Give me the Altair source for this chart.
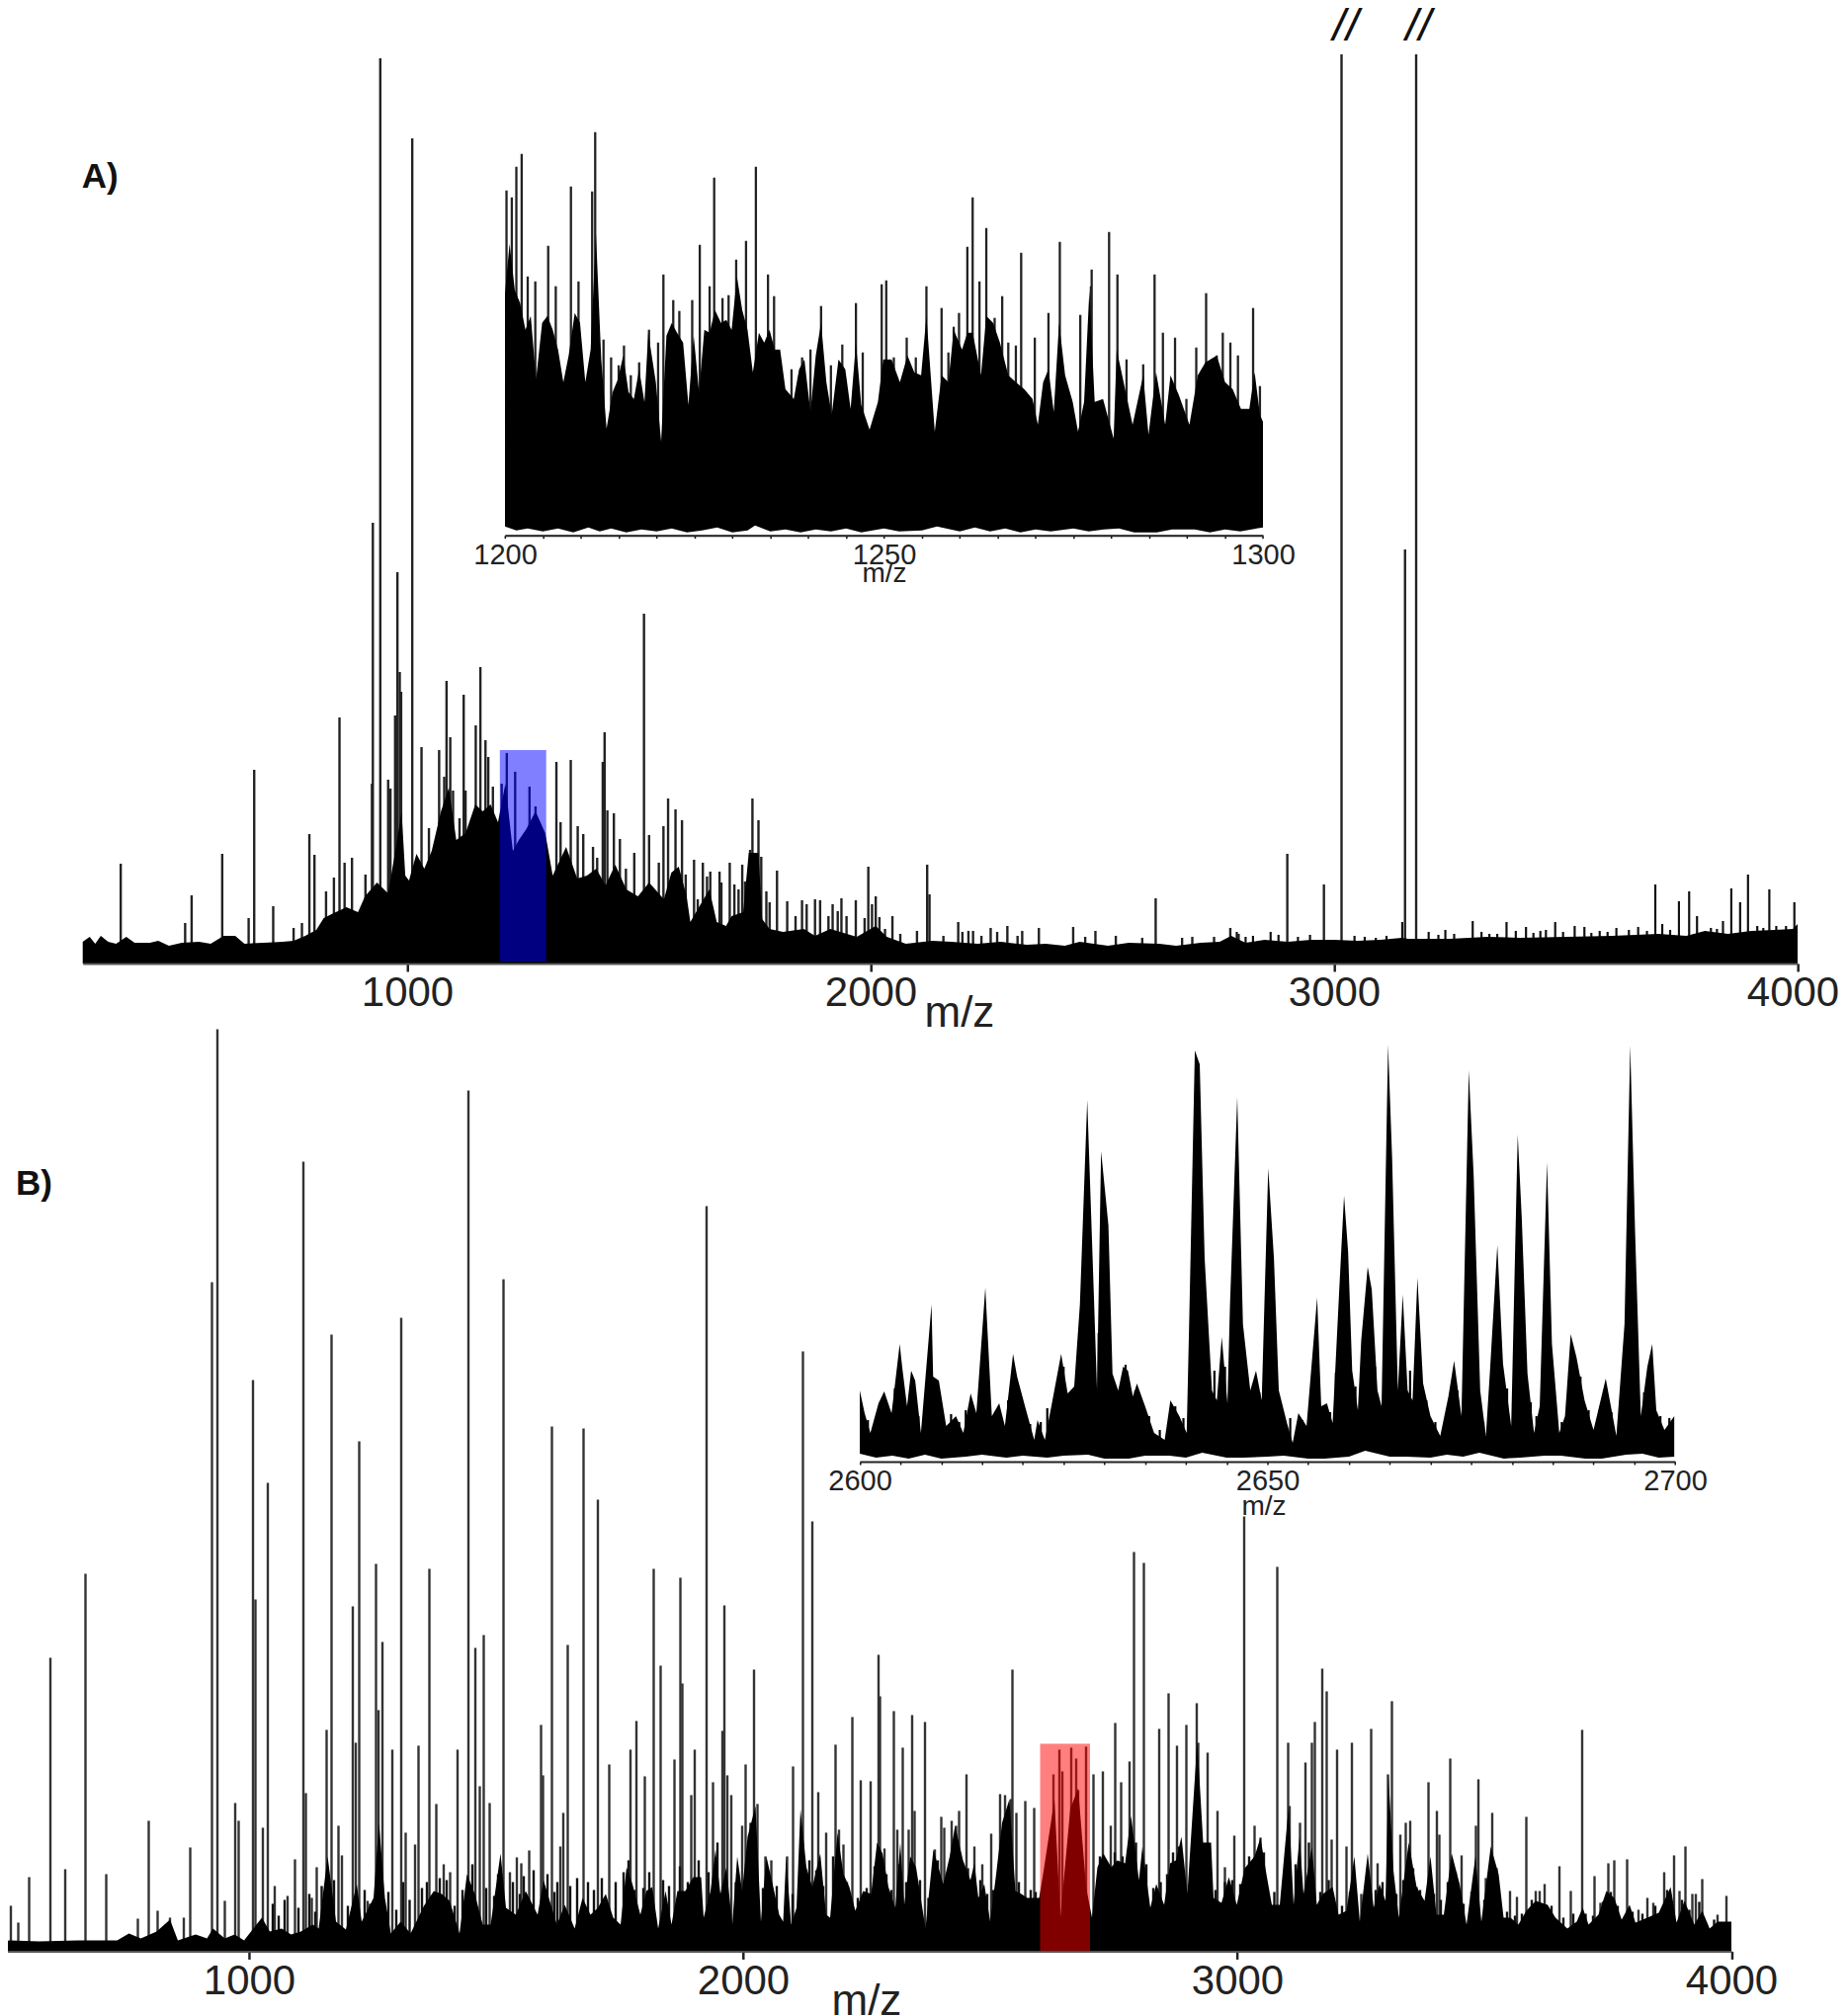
import altair as alt
import pandas as pd

FONT = "Liberation Sans"
W, H = 1862, 2032
K = 1862 / 1854  # the page fits the picture to its 1854px body...
DY = 4.4         # ...and centres it in the taller box that leaves

# ---------- Panel A: full spectrum ----------
A_ENV = [(300,22),(315,27),(327,20),(339,28),(355,22),(372,20),(394,27),(412,21),(445,21),(463,23),(486,18),(514,21),(551,22),(576,20),(604,28),(629,28),(649,20),(690,21),(731,22),(755,23),(780,28),(804,34),(820,46),(837,50),(869,57),(894,52),(909,68),(935,82),(959,71),(976,118),(988,154),(996,89),(1004,84),(1020,111),(1037,96),(1053,114),(1073,154),(1090,178),(1106,125),(1126,132),(1147,161),(1163,154),(1180,161),(1196,143),(1212,182),(1228,114),(1241,125),(1257,136),(1277,154),(1298,132),(1314,89),(1343,118),(1367,86),(1388,89),(1408,96),(1428,79),(1449,100),(1473,75),(1498,68),(1522,82),(1554,65),(1570,92),(1586,98),(1603,68),(1611,42),(1627,55),(1652,75),(1668,42),(1688,38),(1700,48),(1725,52),(1737,112),(1758,112),(1766,45),(1782,35),(1811,32),(1856,35),(1880,28),(1913,35),(1970,27),(2011,38),(2035,27),(2076,20),(2133,23),(2174,22),(2231,20),(2280,22),(2337,19),(2378,20),(2419,18),(2451,22),(2512,18),(2557,21),(2623,20),(2659,18),(2712,21),(2753,22),(2778,28),(2809,21),(2850,24),(2900,22),(2950,24),(3000,24),(3050,23),(3100,24),(3146,26),(3160,25),(3250,25),(3330,27),(3400,26),(3500,27),(3600,28),(3700,30),(3760,28),(3800,33),(3850,30),(3900,33),(3950,34),(3990,35),(4000,40)]
a_peak_mz = [382,521,535,601,658,670,711,755,773,789,800,825,842,854,865,881,910,924,926,942,959,964,974,979,984,987,1011,1031,1047,1069,1080,1085,1093,1099,1113,1122,1126,1148,1158,1169,1175,1185,1204,1215,1233,1264,1277,1322,1331,1353,1368,1380,1401,1410,1422,1426,1432,1446,1459,1472,1490,1511,1522,1543,1553,1563,1579,1593,1601,1619,1627,1638,1647,1654,1674,1678,1696,1706,1715,1723,1729,1740,1745,1758,1764,1775,1782,1798,1820,1838,1852,1862,1880,1891,1909,1918,1929,1937,1948,1968,1987,1995,2003,2011,2019,2031,2047,2064,2100,2122,2127,2157,2189,2198,2211,2221,2239,2259,2273,2295,2317,2327,2363,2437,2463,2485,2529,2586,2615,2672,2694,2741,2776,2794,2899,2978,3016,3153,3177]
a_peak_h = [101,41,69,111,46,196,58,36,41,131,110,73,87,249,102,107,90,182,446,916,186,177,251,396,295,275,835,219,137,216,189,286,229,175,147,272,175,241,300,226,209,179,182,213,194,179,159,204,143,206,139,131,118,107,204,234,155,152,126,96,112,354,130,102,139,167,156,145,90,105,65,102,88,93,93,82,102,80,75,100,83,115,167,145,108,73,62,94,63,48,64,60,65,64,48,60,53,66,48,64,46,98,60,68,47,35,48,30,33,100,70,28,42,32,33,33,28,36,32,38,28,33,36,37,27,33,28,26,66,26,27,27,36,30,111,80,920,419,920]
A_TEETH = [(2790,32),(2809,27),(2825,28),(2863,32),(2880,29),(2922,27),(2948,29),(3044,28),(3066,27),(3090,26),(3113,28),(3147,42),(3204,32),(3225,29),(3240,34),(3259,30),(3299,43),(3318,32),(3335,30),(3352,30),(3372,42),(3392,33),(3414,37),(3430,31),(3445,33),(3457,34),(3477,42),(3494,32),(3519,38),(3540,37),(3555,31),(3573,33),(3590,32),(3609,36),(3636,34),(3656,37),(3675,33),(3693,80),(3708,40),(3725,34),(3744,63),(3766,73),(3783,48),(3813,36),(3826,35),(3839,43),(3857,76),(3876,62),(3893,90),(3913,38),(3926,36),(3939,75),(3954,38),(3975,38),(3993,62)]

# ---------- Panel A inset: m/z 1200-1300 ----------
IA_ENV = [(1200.0,245),(1200.6,295),(1201.3,248),(1202.0,235),(1202.7,208),(1203.4,222),(1204.1,158),(1204.9,215),(1205.6,222),(1206.3,208),(1207.0,188),(1207.7,155),(1208.4,182),(1209.2,225),(1209.9,215),(1210.6,155),(1211.3,188),(1212.0,305),(1212.7,178),(1213.4,108),(1214.2,145),(1214.9,158),(1215.6,182),(1216.3,145),(1217.0,138),(1217.7,168),(1218.4,135),(1218.9,205),(1219.9,155),(1220.6,95),(1221.3,202),(1222.0,215),(1222.7,205),(1223.5,195),(1224.2,132),(1224.9,202),(1225.6,145),(1226.3,208),(1227.0,205),(1227.7,228),(1228.5,215),(1229.2,218),(1229.9,208),(1230.6,262),(1231.3,228),(1232.0,208),(1232.7,165),(1233.5,205),(1234.2,195),(1234.9,208),(1235.6,188),(1236.3,188),(1237.0,148),(1238.1,138),(1238.8,168),(1239.5,178),(1240.3,125),(1241.0,182),(1241.7,215),(1242.4,155),(1243.1,122),(1244.0,178),(1244.9,168),(1245.6,128),(1246.3,195),(1247.0,132),(1248.1,107),(1249.2,135),(1249.9,178),(1251.0,178),(1252.1,155),(1253.1,182),(1254.0,165),(1254.9,162),(1255.6,222),(1256.7,105),(1257.6,162),(1258.5,155),(1259.2,208),(1260.3,188),(1261.0,205),(1261.7,205),(1262.8,162),(1263.5,222),(1264.4,215),(1265.3,195),(1266.4,162),(1267.4,155),(1268.5,148),(1269.6,138),(1270.3,112),(1271.0,155),(1271.7,168),(1272.4,125),(1273.1,215),(1273.9,162),(1274.9,135),(1275.6,105),(1276.4,135),(1277.1,248),(1277.8,135),(1278.9,138),(1280.3,98),(1280.7,188),(1281.7,152),(1282.8,112),(1284.2,162),(1284.9,102),(1285.9,165),(1287.1,112),(1287.8,162),(1288.9,142),(1290.3,112),(1291.4,162),(1292.4,175),(1293.9,182),(1295.0,155),(1296.0,148),(1297.1,128),(1298.2,128),(1298.9,165),(1299.6,122),(1300.0,115)]
IA_LOW = [(1200,9),(1201.5,5),(1203,7),(1205,4),(1207,7),(1209,3),(1211,8),(1212.5,4),(1214,7),(1216,3),(1218,6),(1220,4),(1222,7),(1224,3),(1226,5),(1228,8),(1230,3),(1232,5),(1233,10),(1235,4),(1237,6),(1239,3),(1241,6),(1243,4),(1245,7),(1247,3),(1250,7),(1252,4),(1255,5),(1257,9),(1260,4),(1262,8),(1264,4),(1266,7),(1268,3),(1270,6),(1272,4),(1275,7),(1277,4),(1279,6),(1281,7),(1283,3),(1286,3),(1288,6),(1291,6),(1293,3),(1295,6),(1297,4),(1300,8)]
ia_peak_mz = [1200.2,1200.9,1201.5,1202.2,1203,1204,1205.7,1206.7,1208.7,1209.7,1211.5,1211.9,1213,1214,1215,1215.7,1216.6,1217.7,1219,1220.2,1220.9,1222.2,1223,1224.7,1225.7,1227,1227.6,1228.7,1229.5,1230.5,1231.8,1233.1,1234.7,1235.5,1237.8,1239.2,1240.3,1241.7,1243,1244.5,1246.3,1247.2,1249.7,1250.3,1251.3,1253,1254.2,1255.6,1257.6,1258.5,1259.2,1259.9,1261,1261.7,1262.6,1263.5,1264.6,1265.6,1266.4,1267.4,1268.1,1269.9,1271.7,1273.2,1274.6,1275.9,1277.3,1277.4,1279.7,1280.8,1282,1284.2,1285.7,1286.8,1288.4,1289.9,1291.2,1292.5,1293.9,1294.7,1295.7,1296.7,1298.7,1299.6]
ia_peak_h = [349,342,373,386,262,257,293,252,353,257,348,408,198,180,172,192,162,175,208,195,264,238,227,238,294,252,362,240,243,279,298,373,264,242,168,180,188,232,172,193,235,185,254,258,180,200,180,252,230,185,211,225,292,342,257,311,220,242,195,192,286,200,225,297,138,223,252,269,307,264,178,173,264,205,200,138,190,245,182,205,195,182,230,151]

# ---------- Panel B: full spectrum ----------
B_ENV = [(500,10),(516,11),(575,10),(654,11),(733,11),(757,18),(781,13),(813,20),(840,32),(856,11),(892,17),(915,13),(927,23),(951,13),(971,17),(990,11),(1026,34),(1042,20),(1066,23),(1085,17),(1105,20),(1129,27),(1141,23),(1159,96),(1176,30),(1196,22),(1208,47),(1218,68),(1228,30),(1252,54),(1263,130),(1275,54),(1287,18),(1307,30),(1327,18),(1354,46),(1374,61),(1390,58),(1406,51),(1426,18),(1441,78),(1457,58),(1473,27),(1489,27),(1509,99),(1520,44),(1540,37),(1560,61),(1584,37),(1596,72),(1623,27),(1639,47),(1659,23),(1675,54),(1691,37),(1706,44),(1722,58),(1737,34),(1752,27),(1764,85),(1776,68),(1792,37),(1804,61),(1816,65),(1828,23),(1843,61),(1855,27),(1867,61),(1883,61),(1899,75),(1915,75),(1920,34),(1934,61),(1944,103),(1954,58),(1966,85),(1978,27),(1988,96),(1998,61),(2009,116),(2025,147),(2036,30),(2047,96),(2061,65),(2073,37),(2081,30),(2087,96),(2097,27),(2108,44),(2116,144),(2128,85),(2140,65),(2156,99),(2168,37),(2176,34),(2191,120),(2203,78),(2215,65),(2227,41),(2243,61),(2259,58),(2271,110),(2282,99),(2294,65),(2308,44),(2318,110),(2326,47),(2338,96),(2350,85),(2369,23),(2385,103),(2405,68),(2418,96),(2429,127),(2445,92),(2460,72),(2468,89),(2476,54),(2488,68),(2500,30),(2512,78),(2524,130),(2539,154),(2551,61),(2563,58),(2575,54),(2599,54),(2607,78),(2630,154),(2642,34),(2662,144),(2678,165),(2694,65),(2706,34),(2717,85),(2729,99),(2745,85),(2757,92),(2773,89),(2785,137),(2801,72),(2808,106),(2824,44),(2836,68),(2852,47),(2864,89),(2876,92),(2887,116),(2899,58),(2919,213),(2931,110),(2947,110),(2952,54),(2968,49),(2983,75),(2999,47),(3015,84),(3035,96),(3047,115),(3059,78),(3070,47),(3086,47),(3104,147),(3114,47),(3126,116),(3134,58),(3151,106),(3161,47),(3173,58),(3193,65),(3205,37),(3221,41),(3237,96),(3248,30),(3264,99),(3276,44),(3288,68),(3300,51),(3306,178),(3316,82),(3327,34),(3347,110),(3363,65),(3379,51),(3391,96),(3403,37),(3418,37),(3434,99),(3450,68),(3464,27),(3482,96),(3494,30),(3513,106),(3529,78),(3539,34),(3553,34),(3569,27),(3585,41),(3604,51),(3628,47),(3644,34),(3668,23),(3687,30),(3699,44),(3711,27),(3731,37),(3747,61),(3763,54),(3778,32),(3794,47),(3806,29),(3830,34),(3853,39),(3877,65),(3889,29),(3905,51),(3925,27),(3941,41),(3956,23),(3972,30),(3998,30),(4000,30)]
b_peak_mz = [518,533,555,598,628,669,711,775,797,815,840,868,881,925,936,951,972,979,1008,1013,1028,1038,1052,1078,1093,1110,1115,1127,1137,1157,1167,1181,1188,1210,1216,1223,1240,1257,1262,1270,1290,1308,1317,1336,1343,1365,1379,1394,1407,1422,1444,1458,1467,1475,1487,1515,1528,1542,1551,1567,1591,1595,1613,1630,1636,1645,1677,1706,1729,1772,1784,1801,1819,1833,1861,1873,1877,1895,1902,1926,1939,1958,1962,1968,1976,1998,2005,2022,2029,2045,2057,2089,2101,2121,2140,2152,2168,2187,2194,2203,2221,2238,2258,2274,2277,2286,2305,2312,2323,2335,2342,2347,2368,2388,2401,2407,2422,2431,2437,2452,2468,2484,2502,2520,2530,2542,2545,2553,2571,2589,2615,2628,2640,2646,2664,2674,2678,2694,2709,2728,2744,2753,2765,2782,2791,2811,2842,2861,2878,2897,2918,2921,2940,2960,2975,2994,3014,3035,3047,3081,3103,3106,3127,3138,3151,3157,3172,3181,3191,3202,3221,3232,3251,3271,3284,3305,3313,3330,3341,3350,3363,3387,3404,3409,3431,3454,3483,3488,3503,3516,3525,3552,3566,3585,3604,3612,3622,3652,3675,3698,3723,3735,3751,3763,3789,3812,3830,3842,3864,3884,3895,3907,3921,3928,3941,3972,3990]
b_peak_h = [46,29,75,297,83,382,78,33,132,41,34,34,105,677,933,51,150,132,578,356,125,474,66,56,93,799,160,54,85,224,624,127,97,349,211,516,51,392,244,313,204,641,120,108,208,387,149,88,80,204,871,307,167,320,150,680,80,95,89,102,229,178,531,106,140,310,529,457,189,204,233,177,387,289,194,378,271,158,204,754,171,223,350,178,158,127,189,285,149,96,92,96,187,607,435,161,120,209,123,108,237,173,172,300,258,104,243,123,206,123,239,142,232,103,136,125,132,127,142,179,106,88,119,159,158,154,285,140,152,145,89,179,204,182,206,195,163,207,179,182,127,231,171,192,404,393,225,261,208,229,251,211,201,142,85,117,440,127,115,389,211,147,130,191,211,232,286,263,113,204,106,211,58,225,89,179,253,118,130,132,65,171,142,118,195,97,127,174,74,140,84,61,55,136,61,61,68,86,61,224,76,49,89,92,93,42,54,49,80,97,61,106,58,58,73,37,56]
B_FILL = [(1048,48),(1060,36),(1072,52),(1100,44),(1122,58),(1134,40),(1147,66),(1172,72),(1200,46),(1234,62),(1245,48),(1282,60),(1298,42),(1312,70),(1325,52),(1350,64),(1360,70),(1386,74),(1400,72),(1416,46),(1432,62),(1452,88),(1480,64),(1496,56),(1504,78),(1534,70),(1548,58),(1556,76),(1576,82),(1604,78),(1618,60),(1624,70),(1650,66),(1664,74),(1686,70),(1698,62),(1714,74),(1742,70),(1758,80),(1768,92),(1780,62),(1798,64),(1810,80),(1838,72),(1850,66),(1872,86),(1888,70),(1910,92),(1930,80),(1948,110),(1985,70),(2015,130),(2040,64),(2068,66),(2100,58),(2134,92),(2148,82),(2162,66),(2182,96),(2210,70),(2232,54),(2250,64),(2266,86),(2290,78),(2300,62),(2316,88),(2330,70),(2358,72),(2375,54),(2394,92),(2412,76),(2438,100),(2455,84),(2480,72),(2494,58),(2506,62),(2532,118),(2558,70),(2582,62),(2592,60),(2722,96),(2736,90),(2752,100),(2768,96),(2795,110),(2816,88),(2830,64),(2845,70),(2858,78),(2870,100),(2882,106),(2910,110),(2925,120),(2938,100),(2956,62),(2975,70),(2990,72),(3006,68),(3024,96),(3042,92),(3054,100),(3075,60),(3095,70),(3118,88),(3145,110),(3168,60),(3185,72),(3212,46),(3228,60),(3256,50),(3280,62),(3294,70),(3322,58),(3336,72),(3356,84),(3370,62),(3398,58),(3412,52),(3426,70),(3442,80),(3458,48),(3474,60),(3500,52),(3520,84),(3546,40),(3562,36),(3576,38),(3596,52),(3620,44),(3636,46),(3660,34),(3680,38),(3705,38),(3720,36),(3740,50),(3756,60),(3770,46),(3800,40),(3820,38),(3846,46),(3870,62),(3900,52),(3915,42),(3935,50),(3965,32)]

# ---------- Panel B inset: m/z 2600-2700 ----------
ib_mz = [2600.0,2600.6,2601.3,2602.3,2603.0,2603.9,2604.9,2605.2,2605.8,2606.3,2606.8,2607.5,2608.8,2609.0,2609.7,2610.6,2611.8,2612.7,2613.6,2614.3,2615.4,2616.2,2617.1,2617.8,2618.8,2619.3,2620.4,2621.4,2621.8,2622.7,2623.5,2624.7,2625.5,2626.3,2627.0,2627.9,2628.7,2629.1,2629.6,2630.5,2631.0,2631.7,2632.3,2632.9,2633.5,2634.0,2635.0,2636.1,2637.4,2638.1,2639.2,2640.1,2640.4,2641.1,2641.7,2642.3,2643.2,2643.8,2644.4,2645.1,2645.4,2646.3,2647.0,2647.9,2648.6,2649.3,2650.1,2650.8,2651.4,2652.4,2653.1,2653.8,2654.8,2656.1,2656.6,2657.3,2658.0,2658.8,2659.4,2659.9,2660.4,2661.1,2661.5,2662.3,2662.8,2663.5,2664.0,2664.8,2665.3,2666.0,2666.6,2667.2,2667.8,2668.4,2669.1,2670.0,2671.2,2672.2,2672.9,2673.8,2674.7,2675.3,2676.1,2676.8,2677.3,2678.2,2678.9,2679.9,2680.7,2681.2,2681.9,2682.7,2683.4,2684.3,2684.9,2685.8,2686.5,2687.2,2687.9,2688.9,2690.0,2691.5,2692.8,2693.8,2694.5,2695.1,2695.8,2696.6,2697.2,2697.7,2698.7,2699.9]
ib_h = [72,49,29,59,71,49,119,96,56,92,82,29,159,86,82,36,46,29,69,49,176,46,59,36,109,86,52,22,42,22,56,109,69,76,159,366,172,72,314,239,89,72,96,92,66,79,56,29,22,62,46,29,139,416,402,206,72,62,126,59,156,369,139,72,92,62,297,206,72,39,19,49,36,166,56,59,39,172,269,212,92,52,122,197,174,72,56,422,306,72,169,72,62,186,79,46,26,66,102,46,396,289,72,26,92,219,99,36,331,246,89,29,56,303,119,29,46,129,106,62,32,84,26,139,421,232,46,96,119,52,32,46]
IB_FILL = [(2601.0,42),(2602.7,60),(2604.3,74),(2607.2,46),(2608.2,70),(2611.2,48),(2612.2,40),(2613.0,52),(2616.8,50),(2618.2,62),(2620.9,38),(2622.2,40),(2623.0,54),(2625.0,96),(2626.7,86),(2629.3,130),(2632.6,98),(2633.8,72),(2635.5,46),(2636.8,32),(2638.7,56),(2639.7,44),(2643.5,92),(2644.8,96),(2647.5,84),(2649.0,70),(2651.0,92),(2652.8,44),(2654.3,42),(2655.4,50),(2657.7,50),(2658.4,90),(2660.8,76),(2663.2,96),(2665.7,80),(2667.5,92),(2669.5,62),(2670.6,40),(2671.8,44),(2673.3,72),(2675.8,92),(2676.5,40),(2677.7,120),(2679.4,74),(2680.2,60),(2682.3,60),(2683.0,46),(2685.4,50),(2686.1,40),(2688.4,86),(2689.4,52),(2690.7,52),(2692.2,50),(2693.3,44),(2696.2,70),(2698.2,46),(2699.3,44)]
IB_LOW = [(2600,8),(2602,4),(2604,6),(2606,3),(2608,7),(2610,3),(2613,5),(2615,7),(2618,4),(2620,6),(2623,4),(2625,6),(2628,7),(2630,3),(2633,3),(2635,6),(2638,6),(2640,4),(2642,9),(2645,4),(2647,4),(2650,5),(2652,6),(2655,3),(2657,3),(2660,5),(2662,11),(2665,5),(2667,5),(2670,4),(2672,7),(2674,5),(2676,9),(2679,3),(2681,4),(2684,6),(2686,6),(2689,3),(2691,3),(2694,7),(2696,8),(2698,4),(2700,5)]

# ---------- Highlighted windows and annotations ----------
a_box = {"lo": [1200], "hi": [1300], "top": [216], "bottom": [2]}
b_box = {"lo": [2601], "hi": [2702], "top": [210], "bottom": [0]}
a_breaks = {"mz": [3026, 3183], "h": [948, 948], "label": ["//", "//"]}
a_tag = {"mz": [298], "h": [796], "label": ["A)"]}
b_tag = {"mz": [528], "h": [776], "label": ["B)"]}


def place(xd, x0, x1, ymax, y0):
    """Panel position, in page pixels less the 8px margin."""
    return dict(xd=xd, xr=[x0 * K, x1 * K], yd=[0, ymax],
                yr=[(y0 - DY) * K, (y0 - DY - ymax) * K])


A = place([300, 4000], 75.7, 1811, 920, 967)
B = place([500, 4000], -6, 1744, 940, 1966.5)
IA = place([1200, 1300], 503, 1270, 420, 533.7)
IB = place([2600, 2700], 862, 1687, 430, 1471)


def xenc(p, field="mz", axis=None):
    scale = alt.Scale(domain=p["xd"], range=p["xr"], nice=False, zero=False)
    return alt.X(f"{field}:Q", scale=scale, axis=axis, title=None)


def yenc(p, field="h"):
    scale = alt.Scale(domain=p["yd"], range=p["yr"], nice=False, zero=False)
    return alt.Y(f"{field}:Q", scale=scale, axis=None, title=None)


def area(p, pairs, axis=None, color="#000000"):
    d = pd.DataFrame({"mz": [a for a, _ in pairs], "h": [b for _, b in pairs], "low": [0] * len(pairs)})
    return alt.Chart(d).mark_area(color=color, interpolate="linear", opacity=1).encode(
        x=xenc(p, axis=axis), y=yenc(p), y2=alt.Y2("low:Q"))


def rules(p, pairs, width, color):
    d = pd.DataFrame({"mz": [a for a, _ in pairs], "h": [b for _, b in pairs], "low": [0] * len(pairs)})
    return alt.Chart(d).mark_rule(color=color, strokeWidth=width).encode(
        x=xenc(p), y=yenc(p), y2=alt.Y2("low:Q"))


def box(p, spec, color):
    d = pd.DataFrame(spec)
    return alt.Chart(d).mark_rect(color=color, opacity=0.5).encode(
        x=xenc(p, "lo"), x2=alt.X2("hi:Q"), y=yenc(p, "bottom"), y2=alt.Y2("top:Q"))


def text(p, spec, size, bold=False, align="left", style="normal"):
    d = pd.DataFrame(spec)
    return alt.Chart(d).mark_text(font=FONT, fontSize=size * K, align=align, baseline="middle",
                                  fontStyle=style,
                                  fontWeight="bold" if bold else "normal", color="#111111").encode(
        x=xenc(p), y=yenc(p), text="label:N")


def main_axis(y, title_x, title_y, label_offset=0):
    return alt.Axis(orient="bottom", offset=(y - DY) * K - H, values=[1000, 2000, 3000, 4000], format="d",
                    grid=False, tickSize=8, tickWidth=2.5, tickColor="#222222", zindex=1,
                    domainWidth=2, domainColor="#555555",
                    labelFont=FONT, labelFontSize=42 * K, labelColor="#222222", labelPadding=2,
                    labelOffset=label_offset,
                    labelOverlap=False, labelFlush=False, labelBound=False,
                    title="m/z", titleFont=FONT, titleFontSize=44 * K, titleFontWeight="normal",
                    titleColor="#222222", titleX=title_x * K, titleY=title_y * K,
                    titleAlign="left", titleBaseline="alphabetic", titleAnchor="start")


def inset_axis(y, values, title_x, title_y):
    return alt.Axis(orient="bottom", offset=(y - DY) * K - H, values=values, format="d",
                    labelExpr="datum.value % 50 === 0 ? datum.label : ''",
                    grid=False, tickSize=3, tickWidth=1.5, tickColor="#111111", zindex=1,
                    domainWidth=2, domainColor="#222222",
                    labelFont=FONT, labelFontSize=29 * K, labelColor="#222222", labelPadding=3,
                    labelOverlap=False, labelFlush=False, labelBound=False,
                    title="m/z", titleFont=FONT, titleFontSize=28 * K, titleFontWeight="normal",
                    titleColor="#222222", titleX=title_x * K, titleY=title_y * K,
                    titleAlign="left", titleBaseline="alphabetic", titleAnchor="start")


layers = [
    rules(A, list(zip(a_peak_mz, a_peak_h)), 2.4, "#222222"),
    rules(A, A_TEETH, 2.2, "#111111"),
    area(A, A_ENV, axis=main_axis(967, 927, 64, alt.expr("datum.value === 4000 ? -5 : 0"))),
    box(A, a_box, "#0000ff"),
    text(A, a_breaks, 48, align="center", style="italic"),
    text(A, a_tag, 35, bold=True),
    rules(IA, list(zip(ia_peak_mz, ia_peak_h)), 2.3, "#222222"),
    area(IA, IA_ENV, axis=inset_axis(533.7, list(range(1200, 1301, 5)), 864, 47)),
    area(IA, IA_LOW, color="#ffffff"),
    rules(B, list(zip(b_peak_mz, b_peak_h)), 2.4, "#333333"),
    rules(B, B_FILL, 2.4, "#111111"),
    area(B, B_ENV, axis=main_axis(1966.5, 833, 64.5)),
    box(B, b_box, "#ff0000"),
    text(B, b_tag, 35, bold=True),
    rules(IB, IB_FILL, 2.2, "#000000"),
    area(IB, list(zip(ib_mz, ib_h)), axis=inset_axis(1471, list(range(2600, 2701, 5)), 1248, 54)),
    area(IB, IB_LOW, color="#ffffff"),
]

chart = alt.layer(*layers).resolve_scale(x="independent", y="independent").resolve_axis(
    x="independent", y="independent"
).properties(
    width=W, height=H, padding=0, autosize=alt.AutoSizeParams(type="none"), background="white"
).configure_view(stroke=None)

chart.save("out.html", embed_options={"renderer": "svg", "actions": False})
